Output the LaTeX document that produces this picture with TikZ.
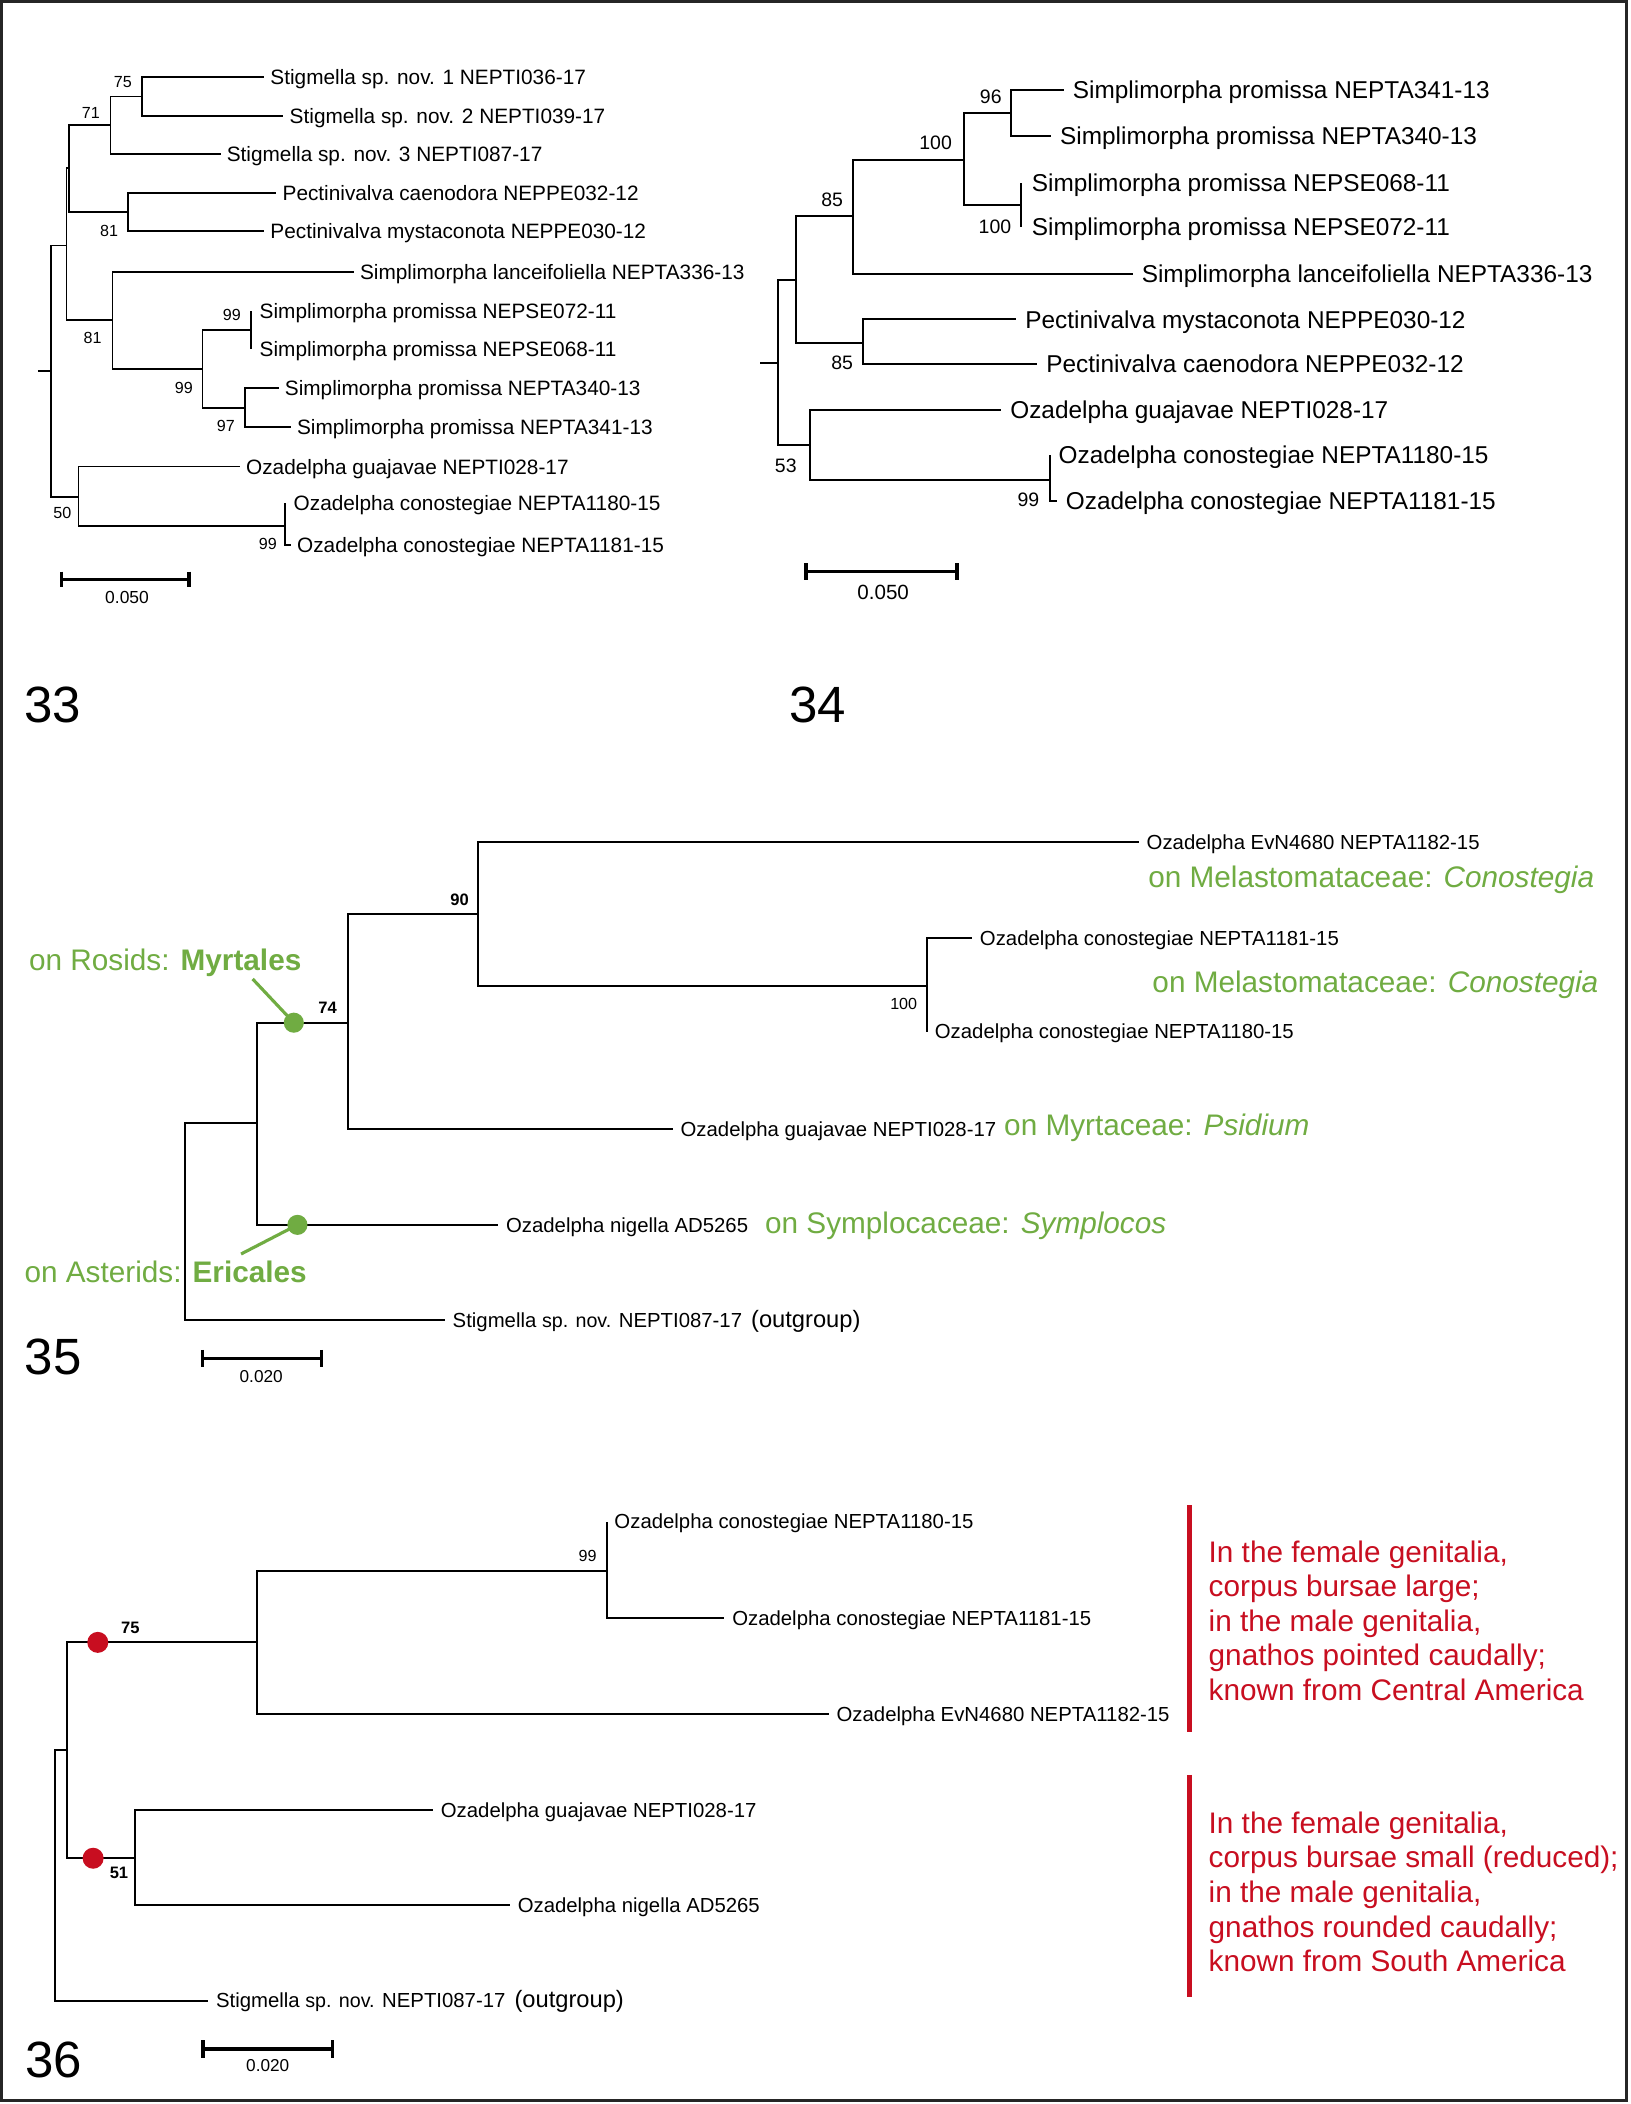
\documentclass[tikz,border=0pt]{standalone}
\usepackage{fontspec}
\setmainfont{Liberation Sans}
\definecolor{hostgreen}{RGB}{112,172,66}
\definecolor{traitred}{RGB}{200,14,32}
\newcommand\fsz[1]{\fontsize{#1}{#1}\selectfont}
\tikzset{
  br33/.style={line width=0.8pt},
  br34/.style={line width=0.95pt},
  br35/.style={line width=0.95pt},
  br36/.style={line width=0.85pt},
  sbar/.style={line width=1.4pt},
  lf33/.style={font=\fsz{9.3}, anchor=west, inner xsep=2.6pt, inner ysep=0pt, text height=6.66pt, text depth=0pt},
  lz33/.style={lf33, inner xsep=3.7pt},
  lf34/.style={font=\fsz{10.9}, anchor=west, inner xsep=3.8pt, inner ysep=0pt, text height=7.8pt, text depth=0pt},
  lz34/.style={lf34, inner xsep=4.5pt},
  lf35/.style={font=\fsz{9.1}, anchor=west, inner xsep=3.3pt, inner ysep=0pt, text height=6.5pt, text depth=0pt},
  bs33/.style={font=\fsz{7.2}, inner sep=0pt, text height=5.16pt, text depth=0pt},
  bs34/.style={font=\fsz{8.7}, inner sep=0pt, text height=6.23pt, text depth=0pt},
  bs35/.style={font=\fsz{7.2}, inner sep=0pt, text height=5.16pt, text depth=0pt},
  bsb35/.style={font=\fsz{7.4}\bfseries, inner sep=0pt, text height=5.3pt, text depth=0pt},
  sc33/.style={font=\fsz{7.8}, inner sep=0pt, text height=5.6pt, text depth=0pt},
  sc34/.style={font=\fsz{9.2}, inner sep=0pt, text height=6.6pt, text depth=0pt},
  sc35/.style={font=\fsz{7.7}, inner sep=0pt, text height=5.5pt, text depth=0pt},
  fignum/.style={font=\fsz{22.8}, inner sep=0pt, text height=16.3pt, text depth=0pt},
  gtext/.style={font=\fsz{13.3}, text=hostgreen, anchor=west, inner sep=0pt, text height=9.52pt, text depth=0pt},
  rtext/.style={font=\fsz{13.3}, text=traitred, anchor=west, inner sep=0pt, text height=9.52pt, text depth=0pt},
  gdot/.style={fill=hostgreen},
  rdot/.style={fill=traitred},
  glead/.style={draw=hostgreen, line width=1.4pt},
  rbar/.style={draw=traitred, line width=2.4pt}
}
\newcommand\outg{Stigmella {\fsz{8.8}sp. nov.} NEPTI087-17 \,{\fsz{10.6}(outgroup)}}
\begin{document}
\begin{tikzpicture}[x=0.6pt,y=-0.6pt]
\useasboundingbox (0,0) rectangle (1215,1568.3);
\fill[white] (0,0) rectangle (1215,1568.3);
\draw[line width=1.3pt, black!85] (1.1,1.1) rectangle (1212.5,1565.8);

% ================= Tree 33 =================
\coordinate (t33root) at (28.2,276.5);
\coordinate (t33r) at (37.9,276.5);
\coordinate (t33A) at (49.5,183);
\coordinate (t33B) at (51.7,125.5);
\coordinate (t33n71) at (82.4,93.2);
\coordinate (t33n75) at (105.9,72);
\coordinate (t33p81) at (95.7,158.3);
\coordinate (t33s81) at (83.8,238.5);
\coordinate (t33n99a) at (151,275.3);
\coordinate (t33n99b) at (187.1,246);
\coordinate (t33n97) at (182.4,304.3);
\coordinate (t33n50) at (58.5,370.2);
\coordinate (t33n99c) at (212.4,391.8);

\node[lf33] (a1) at (196.9,57.6) {Stigmella sp. nov. 1 NEPTI036-17};
\node[lf33] (a2) at (211.3,86.2) {Stigmella sp. nov. 2 NEPTI039-17};
\node[lf33] (a3) at (164.4,115) {Stigmella sp. nov. 3 NEPTI087-17};
\node[lf33] (a4) at (206,144.1) {Pectinivalva caenodora NEPPE032-12};
\node[lf33] (a5) at (196.9,172.2) {Pectinivalva mystaconota NEPPE030-12};
\node[lf33] (a6) at (263.7,202.5) {Simplimorpha lanceifoliella NEPTA336-13};
\node[lz33] (a7) at (187.1,231.5) {Simplimorpha promissa NEPSE072-11};
\node[lz33] (a8) at (187.1,260.2) {Simplimorpha promissa NEPSE068-11};
\node[lf33] (a9) at (207.7,289.4) {Simplimorpha promissa NEPTA340-13};
\node[lf33] (a10) at (216.8,318.5) {Simplimorpha promissa NEPTA341-13};
\node[lf33] (a11) at (178.8,347.8) {Ozadelpha guajavae NEPTI028-17};
\node[lz33] (a12) at (212.4,375) {Ozadelpha conostegiae NEPTA1180-15};
\node[lf33] (a13) at (216.8,406.2) {Ozadelpha conostegiae NEPTA1181-15};

\draw[br33] (t33root) -- (t33r);
\draw[br33] (t33r) |- (t33A);
\draw[br33] (t33r) |- (t33n50);
\draw[br33] (t33A) |- (t33B);
\draw[br33] (t33A) |- (t33s81);
\draw[br33] (t33B) |- (t33n71);
\draw[br33] (t33B) |- (t33p81);
\draw[br33] (t33n71) |- (t33n75);
\draw[br33] (t33n71) |- (a3.west);
\draw[br33] (t33n75) |- (a1.west);
\draw[br33] (t33n75) |- (a2.west);
\draw[br33] (t33p81) |- (a4.west);
\draw[br33] (t33p81) |- (a5.west);
\draw[br33] (t33s81) |- (a6.west);
\draw[br33] (t33s81) |- (t33n99a);
\draw[br33] (t33n99a) |- (t33n99b);
\draw[br33] (t33n99a) |- (t33n97);
\draw[br33] (t33n99b) |- (a7.west);
\draw[br33] (t33n99b) |- (a8.west);
\draw[br33] (t33n97) |- (a9.west);
\draw[br33] (t33n97) |- (a10.west);
\draw[br33] (t33n50) |- (a11.west);
\draw[br33] (t33n50) |- (t33n99c);
\draw[br33] (t33n99c) |- (a12.west);
\draw[br33] (t33n99c) |- (a13.west);

\node[bs33] (b33a) at (91.6,60.9) {75};
\node[bs33] (b33b) at (67.7,83.7) {71};
\node[bs33] (b33c) at (81.3,172) {81};
\node[bs33] (b33d) at (69,252) {81};
\node[bs33] (b33e) at (137,288.7) {99};
\node[bs33] (b33f) at (172.8,234.8) {99};
\node[bs33] (b33g) at (168.3,317.5) {97};
\node[bs33] (b33h) at (46.5,381.9) {50};
\node[bs33] (b33i) at (199.6,405.5) {99};

\draw[sbar] (45.9,426) -- (45.9,437.6) (45.9,431.8) -- (140.9,431.8) (140.9,426) -- (140.9,437.6);
\node[sc33] (s33) at (94.7,445.5) {0.050};
\node[fignum] (f33) at (39.5,525) {33};

% ================= Tree 34 =================
\coordinate (t34root) at (566.5,270.3);
\coordinate (t34r) at (580.1,270.3);
\coordinate (t34u) at (593.4,208.7);
\coordinate (t34n85) at (636,161);
\coordinate (t34n100a) at (718.7,119.3);
\coordinate (t34n96) at (753.8,84.5);
\coordinate (t34n100b) at (761.3,152.8);
\coordinate (t34p85) at (643,255.4);
\coordinate (t34n53) at (603.7,331.7);
\coordinate (t34n99) at (782.4,357.8);

\node[lf34] (c1) at (793.1,67.1) {Simplimorpha promissa NEPTA341-13};
\node[lf34] (c2) at (783.6,101.4) {Simplimorpha promissa NEPTA340-13};
\node[lz34] (c3) at (761.3,136.1) {Simplimorpha promissa NEPSE068-11};
\node[lz34] (c4) at (761.3,169) {Simplimorpha promissa NEPSE072-11};
\node[lf34] (c5) at (844.4,204.2) {Simplimorpha lanceifoliella NEPTA336-13};
\node[lf34] (c6) at (757.6,238) {Pectinivalva mystaconota NEPPE030-12};
\node[lf34] (c7) at (773.3,271.3) {Pectinivalva caenodora NEPPE032-12};
\node[lf34] (c8) at (746.4,305.6) {Ozadelpha guajavae NEPTI028-17};
\node[lf34] (c9) at (782.4,339.1) {Ozadelpha conostegiae NEPTA1180-15};
\node[lf34] (c10) at (787.8,373.2) {Ozadelpha conostegiae NEPTA1181-15};

\draw[br34] (t34root) -- (t34r);
\draw[br34] (t34r) |- (t34u);
\draw[br34] (t34r) |- (t34n53);
\draw[br34] (t34u) |- (t34n85);
\draw[br34] (t34u) |- (t34p85);
\draw[br34] (t34n85) |- (t34n100a);
\draw[br34] (t34n85) |- (c5.west);
\draw[br34] (t34n100a) |- (t34n96);
\draw[br34] (t34n100a) |- (t34n100b);
\draw[br34] (t34n96) |- (c1.west);
\draw[br34] (t34n96) |- (c2.west);
\draw[br34] (t34n100b) |- (c3.west);
\draw[br34] (t34n100b) |- (c4.west);
\draw[br34] (t34p85) |- (c6.west);
\draw[br34] (t34p85) |- (c7.west);
\draw[br34] (t34n53) |- (c8.west);
\draw[br34] (t34n53) |- (t34n99);
\draw[br34] (t34n99) |- (c9.west);
\draw[br34] (t34n99) |- (c10.west);

\node[bs34] (b34a) at (738.5,72) {96};
\node[bs34] (b34b) at (697.4,106.3) {100};
\node[bs34] (b34c) at (741.6,169) {100};
\node[bs34] (b34d) at (620.3,148.6) {85};
\node[bs34] (b34e) at (627.7,270.3) {85};
\node[bs34] (b34f) at (585.7,347.1) {53};
\node[bs34] (b34g) at (766.5,372.7) {99};

\draw[sbar] (600.8,419.9) -- (600.8,432.3) (600.8,426.1) -- (713.3,426.1) (713.3,419.9) -- (713.3,432.3);
\node[sc34] (s34) at (658.3,441) {0.050};
\node[fignum] (f34) at (609.5,525) {34};

% ================= Tree 35 =================
\coordinate (t35r) at (137.8,910);
\coordinate (t35m) at (191.3,836.8);
\coordinate (t35n74) at (259.3,762.3);
\coordinate (t35n90) at (356,681.5);
\coordinate (t35n100) at (691,734.7);

\node[lf35] (d1) at (848.9,627.9) {Ozadelpha EvN4680 NEPTA1182-15};
\node[lf35] (d2) at (724.6,699.4) {Ozadelpha conostegiae NEPTA1181-15};
\node[lf35] (d3) at (691,769) {Ozadelpha conostegiae NEPTA1180-15};
\node[lf35] (d4) at (501.5,841.8) {Ozadelpha guajavae NEPTI028-17};
\node[lf35] (d5) at (371.4,913) {Ozadelpha nigella AD5265};
\node[lf35] (d6) at (331.6,983.9) {\outg};

\draw[br35] (t35r) |- (t35m);
\draw[br35] (t35r) |- (d6.west);
\draw[br35] (t35m) |- (t35n74);
\draw[br35] (t35m) |- (d5.west);
\draw[br35] (t35n74) |- (t35n90);
\draw[br35] (t35n74) |- (d4.west);
\draw[br35] (t35n90) |- (d1.west);
\draw[br35] (t35n90) |- (t35n100);
\draw[br35] (t35n100) |- (d2.west);
\draw[br35] (t35n100) |- (d3.west);

\node[bsb35] (b35a) at (342.6,670.8) {90};
\node[bsb35] (b35b) at (244.2,751.1) {74};
\node[bs35] (b35c) at (673.6,747.9) {100};

\coordinate (gd1) at (219,762.3);
\coordinate (gd2) at (221.7,913);
\coordinate (gl1) at (188.3,729.7);
\coordinate (gl2) at (179.7,934.7);
\draw[glead] (gd1) -- (gl1);
\draw[glead] (gd2) -- (gl2);
\fill[gdot] (gd1) circle[radius=4.5pt];
\fill[gdot] (gd2) circle[radius=4.5pt];

\node[gtext] (g1) at (855.6,653.9) {on Melastomataceae: \textit{Conostegia}};
\node[gtext] (g2) at (858.7,731.7) {on Melastomataceae: \textit{Conostegia}};
\node[gtext] (g3) at (748.2,838.5) {on Myrtaceae: \textit{Psidium}};
\node[gtext] (g4) at (570,911.5) {on Symplocaceae: \textit{Symplocos}};
\node[gtext] (g5) at (21.4,715.6) {on Rosids: \textbf{Myrtales}};
\node[gtext] (g6) at (18,947.9) {on Asterids: \textbf{Ericales}};

\draw[sbar] (151,1006.2) -- (151,1018.7) (151,1012.5) -- (239.6,1012.5) (239.6,1006.2) -- (239.6,1018.7);
\node[sc35] (s35) at (194.7,1025.6) {0.020};
\node[fignum] (f35) at (39.6,1010.7) {35};

% ================= Tree 36 =================
\coordinate (t36r) at (40.9,1397.9);
\coordinate (t36a) at (49.9,1304.6);
\coordinate (t36n75) at (191.8,1224.2);
\coordinate (t36n99) at (452.2,1170.7);
\coordinate (t36n51) at (100.6,1385.1);

\node[lf35] (e1) at (452.2,1134.2) {Ozadelpha conostegiae NEPTA1180-15};
\node[lf35] (e2) at (540,1206.3) {Ozadelpha conostegiae NEPTA1181-15};
\node[lf35] (e3) at (617.8,1277.6) {Ozadelpha EvN4680 NEPTA1182-15};
\node[lf35] (e4) at (322.8,1349.1) {Ozadelpha guajavae NEPTI028-17};
\node[lf35] (e5) at (380.1,1419.9) {Ozadelpha nigella AD5265};
\node[lf35] (e6) at (155.2,1491.2) {\outg};

\draw[br36] (t36r) |- (t36a);
\draw[br36] (t36r) |- (e6.west);
\draw[br36] (t36a) |- (t36n75);
\draw[br36] (t36a) |- (t36n51);
\draw[br36] (t36n75) |- (t36n99);
\draw[br36] (t36n75) |- (e3.west);
\draw[br36] (t36n99) |- (e1.west);
\draw[br36] (t36n99) |- (e2.west);
\draw[br36] (t36n51) |- (e4.west);
\draw[br36] (t36n51) |- (e5.west);

\fill[rdot] (72.9,1224.2) circle[radius=4.7pt];
\fill[rdot] (69.4,1385.1) circle[radius=4.7pt];

\node[bs35] (b36a) at (438,1159.8) {99};
\node[bsb35] (b36b) at (97.1,1213) {75};
\node[bsb35] (b36c) at (88.7,1395.8) {51};

\draw[sbar] (151.3,1520.9) -- (151.3,1533.7) (151.3,1527.3) -- (247.6,1527.3) (247.6,1520.9) -- (247.6,1533.7);
\node[sc35] (s36) at (199.6,1539.6) {0.020};
\node[fignum] (f36) at (40,1534.6) {36};

\draw[rbar] (886.5,1121.8) -- (886.5,1290.7);
\draw[rbar] (886.5,1323) -- (886.5,1488.8);

\node[rtext] (r1) at (900.6,1156.6) {In the female genitalia,};
\node[rtext] (r2) at (900.6,1182.2) {corpus bursae large;};
\node[rtext] (r3) at (900.6,1207.8) {in the male genitalia,};
\node[rtext] (r4) at (900.6,1233.6) {gnathos pointed caudally;};
\node[rtext] (r5) at (900.6,1259.7) {known from Central America};

\node[rtext] (q1) at (900.6,1358.6) {In the female genitalia,};
\node[rtext] (q2) at (900.6,1384.4) {corpus bursae small (reduced);};
\node[rtext] (q3) at (900.6,1410) {in the male genitalia,};
\node[rtext] (q4) at (900.6,1436.1) {gnathos rounded caudally;};
\node[rtext] (q5) at (900.6,1461.4) {known from South America};
\end{tikzpicture}
\end{document}
